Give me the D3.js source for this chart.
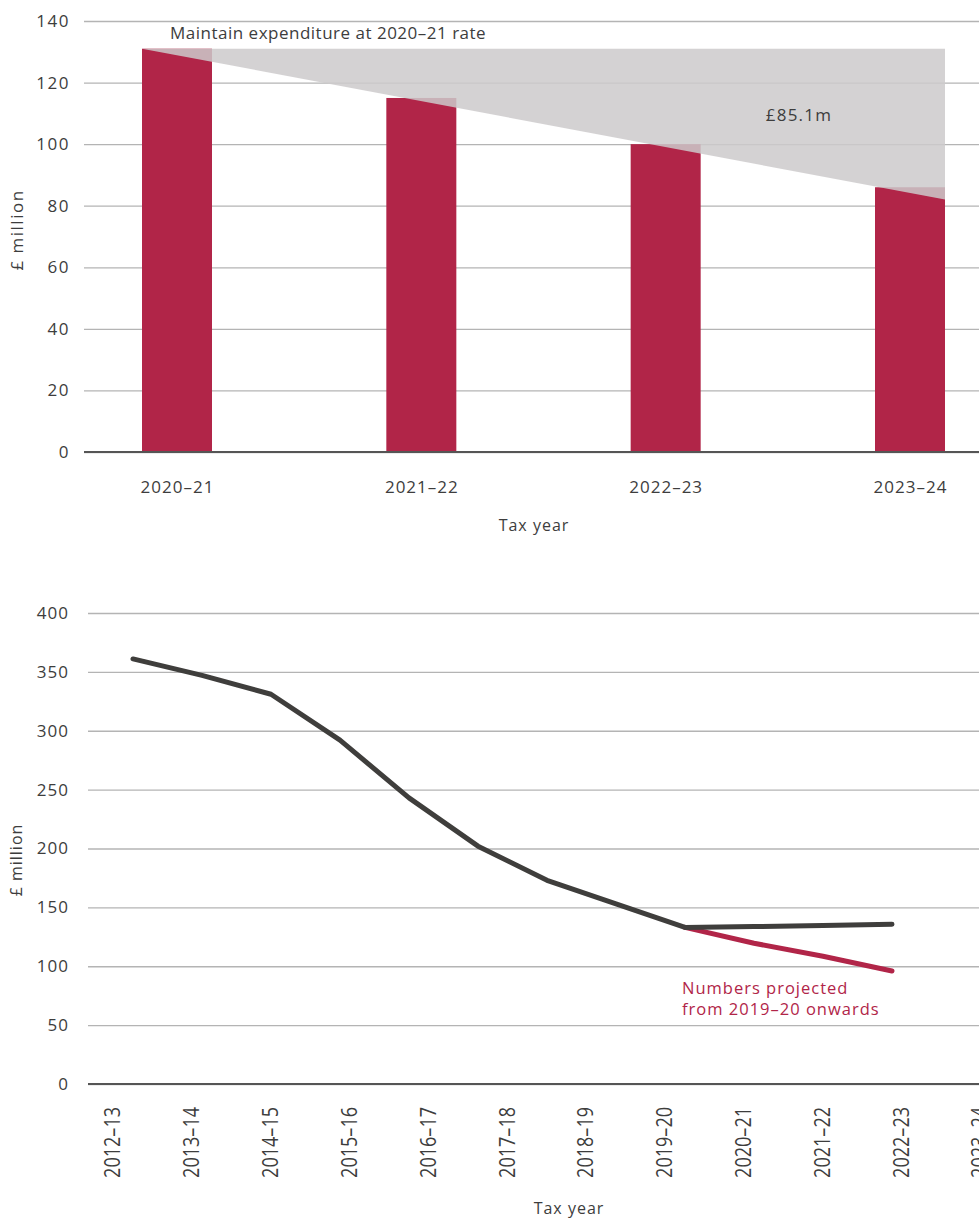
<!DOCTYPE html>
<html lang="en">
<head>
    <meta charset="UTF-8">
    <title>Expenditure charts</title>
    <style>
        body { margin: 0; background: #fff; }
        text { font-family: "Open Sans", "Noto Sans", sans-serif; fill: #3d3d3d; }
    </style>
</head>
<body>

    <svg id="svg" width="979" height="1218"></svg>

    <script src="https://d3js.org/d3.v7.min.js"></script>
    <script>
        // top chart data
        const barYears = ['2020–21', '2021–22', '2022–23', '2023–24']
        const barValues = [131, 115, 100, 86]
        const maintainLevel = 131   // 2020-21 rate kept flat
        const wedgeEnd = 82         // lower corner of the grey wedge
        const barTicks = [0, 20, 40, 60, 80, 100, 120, 140]

        // bottom chart data
        const lineYears = ['2012–13', '2013–14', '2014–15', '2015–16', '2016–17', '2017–18',
                           '2018–19', '2019–20', '2020–21', '2021–22', '2022–23', '2023–24']
        const actualValues = [361, 347, 331, 292, 243, 202, 173, 153, 133]
        const flatValues = [133, 133.7, 134.6, 135.6]        // from index 8 onwards
        const projectedValues = [133, 119.5, 108.5, 96]      // from index 8 onwards
        const lineTicks = [0, 50, 100, 150, 200, 250, 300, 350, 400]

        const red = '#b12548'
        const dark = '#3f3e3c'
        const grid = '#b4b4b4'

        const svg = d3.select('#svg')

        // ---------- top chart ----------
        const topChart = svg.append('g')
        const xTop = d3.scalePoint().domain(barYears).range([177, 910])
        const yTop = d3.scaleLinear().domain([0, 140]).range([452, 21])
        const barW = 70

        topChart.append('g')
            .attr('transform', 'translate(84,0)')
            .call(d3.axisLeft(yTop).tickValues(barTicks).tickSize(-(979 - 84)).tickPadding(14))
            .call(g => g.select('.domain').remove())
            .call(g => g.selectAll('.tick line').attr('stroke', grid).attr('stroke-width', 1.3))
            .call(g => g.selectAll('.tick text')
                .style('font-size', '17px').style('letter-spacing', '1.5px')
                .attr('fill', '#3d3d3d'))

        topChart.selectAll('rect.bar')
            .data(barValues)
            .enter()
            .append('rect')
            .attr('class', 'bar')
            .attr('x', (d, i) => xTop(barYears[i]) - barW / 2)
            .attr('y', d => yTop(d))
            .attr('width', barW)
            .attr('height', d => yTop(0) - yTop(d))
            .attr('fill', red)

        const x0 = xTop(barYears[0]) - barW / 2
        const x1 = xTop(barYears[barYears.length - 1]) + barW / 2
        topChart.append('polygon')
            .attr('points', [[x0, yTop(maintainLevel)], [x1, yTop(maintainLevel)], [x1, yTop(wedgeEnd)]].join(' '))
            .attr('fill', '#cccacb')
            .attr('opacity', 0.85)

        topChart.append('line')
            .attr('x1', 84).attr('x2', 979)
            .attr('y1', yTop(0)).attr('y2', yTop(0))
            .attr('stroke', '#555').attr('stroke-width', 2)

        topChart.append('g')
            .attr('transform', `translate(0,${yTop(0)})`)
            .call(d3.axisBottom(xTop).tickSize(0).tickPadding(29))
            .call(g => g.select('.domain').remove())
            .call(g => g.selectAll('.tick text')
                .style('font-size', '17px').style('letter-spacing', '1px')
                .attr('fill', '#3d3d3d'))

        topChart.append('text')
            .attr('x', 170).attr('y', 39)
            .style('font-size', '17px').style('letter-spacing', '0.5px')
            .text('Maintain expenditure at 2020–21 rate')

        topChart.append('text')
            .attr('x', 799).attr('y', 121)
            .attr('text-anchor', 'middle')
            .style('font-size', '17px').style('letter-spacing', '1.2px')
            .text('£85.1m')

        topChart.append('text')
            .attr('x', 534).attr('y', 531)
            .attr('text-anchor', 'middle')
            .style('font-size', '16px').style('letter-spacing', '1px')
            .text('Tax year')

        topChart.append('text')
            .attr('transform', 'translate(23,230) rotate(-90)')
            .attr('text-anchor', 'middle')
            .style('font-size', '17px').style('letter-spacing', '1.5px')
            .text('£ million')

        // ---------- bottom chart ----------
        const bot = svg.append('g')
        const xAxisB = d3.scalePoint().domain(lineYears).range([112, 979])
        const xLine = d3.scalePoint().domain(lineYears).range([133, 892])
        const yBot = d3.scaleLinear().domain([0, 400]).range([1084, 613])

        bot.append('g')
            .attr('transform', 'translate(88,0)')
            .call(d3.axisLeft(yBot).tickValues(lineTicks).tickSize(-(979 - 88)).tickPadding(19))
            .call(g => g.select('.domain').remove())
            .call(g => g.selectAll('.tick line').attr('stroke', grid).attr('stroke-width', 1.3))
            .call(g => g.selectAll('.tick text')
                .style('font-size', '17px').style('letter-spacing', '1px')
                .attr('fill', '#3d3d3d'))

        bot.append('line')
            .attr('x1', 88).attr('x2', 979)
            .attr('y1', yBot(0)).attr('y2', yBot(0))
            .attr('stroke', '#555').attr('stroke-width', 2)

        const line = d3.line()
            .x(d => xLine(d.year))
            .y(d => yBot(d.value))

        const offset = actualValues.length - 1
        const projected = projectedValues.map((v, i) => ({ year: lineYears[offset + i], value: v }))
        const flat = flatValues.map((v, i) => ({ year: lineYears[offset + i], value: v }))
        const actual = actualValues.map((v, i) => ({ year: lineYears[i], value: v }))

        bot.append('path')
            .datum(projected)
            .attr('d', line)
            .attr('fill', 'none')
            .attr('stroke', red)
            .attr('stroke-width', 5)
            .attr('stroke-linecap', 'round')
            .attr('stroke-linejoin', 'round')

        bot.append('path')
            .datum(actual.concat(flat.slice(1)))
            .attr('d', line)
            .attr('fill', 'none')
            .attr('stroke', dark)
            .attr('stroke-width', 5)
            .attr('stroke-linecap', 'round')
            .attr('stroke-linejoin', 'round')

        // rotated year labels, tall and narrow like the original
        bot.append('g')
            .attr('transform', `translate(0,${yBot(0)})`)
            .call(d3.axisBottom(xAxisB).tickSize(0).tickPadding(0))
            .call(g => g.select('.domain').remove())
            .call(g => g.selectAll('.tick text')
                .style('font-size', '22px')
                .attr('fill', '#3d3d3d')
                .attr('text-anchor', 'end')
                .attr('transform', 'translate(0,23) rotate(-90) scale(0.82,1)')
                .attr('x', 0).attr('y', 0)
                .attr('dy', '0.36em'))

        const note = bot.append('text')
            .attr('x', 682).attr('y', 994)
            .style('font-size', '16.5px').style('letter-spacing', '1px')
            .attr('fill', red)
        note.append('tspan').attr('x', 682).attr('fill', red).text('Numbers projected')
        note.append('tspan').attr('x', 682).attr('dy', 21).attr('fill', red).text('from 2019–20 onwards')

        bot.append('text')
            .attr('x', 569).attr('y', 1214)
            .attr('text-anchor', 'middle')
            .style('font-size', '16px').style('letter-spacing', '1px')
            .text('Tax year')

        bot.append('text')
            .attr('transform', 'translate(22,860) rotate(-90)')
            .attr('text-anchor', 'middle')
            .style('font-size', '16px').style('letter-spacing', '1px')
            .text('£ million')
    </script>
</body>
</html>
